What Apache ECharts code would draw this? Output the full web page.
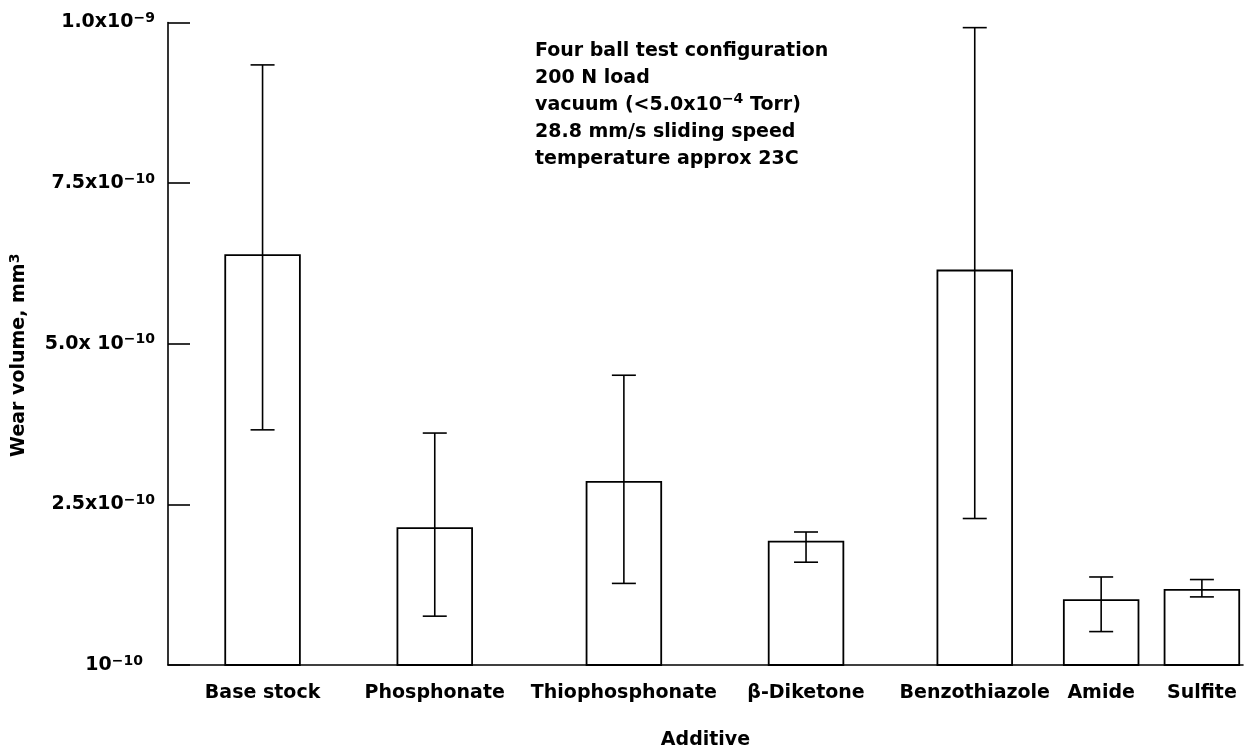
<!DOCTYPE html>
<html><head><meta charset="utf-8">
<script src="https://cdn.jsdelivr.net/npm/echarts@6/dist/echarts.min.js"></script>
<style>html,body{margin:0;padding:0;background:#fff}#c{width:1251px;height:755px}</style>
</head><body><div id="c"></div>
<script>
// ---- data (wear volume in units of 1e-10 mm^3) ----
const categories = ['Base stock', 'Phosphonate', 'Thiophosphonate', 'β-Diketone', 'Benzothiazole', 'Amide', 'Sulfite'];
const wearVolume = [6.38, 2.13, 2.85, 1.92, 6.14, 1.01, 1.17];
const errorHigh  = [9.34, 3.61, 4.51, 2.07, 9.92, 1.37, 1.33];
const errorLow   = [3.66, 0.76, 1.27, 1.60, 2.28, 0.52, 1.06];
const yTickLabels = { '0': ['10', '−10'], '2.5': ['2.5x10', '−10'], '5': ['5.0x 10', '−10'], '7.5': ['7.5x10', '−10'], '10': ['1.0x10', '−9'] };
const noteLines = [
  '{n|Four ball test configuration}',
  '{n|200 N load}',
  '{n|vacuum (<5.0x10}{s|−4}{n| Torr)}',
  '{n|28.8 mm/s sliding speed}',
  '{n|temperature approx 23C}'
];
const xAxisTitle = 'Additive';
const yAxisTitle = '{t|Wear volume, mm}{s|3}';

// ---- layout (slot positions along a hidden x scale) ----
const slotCenters = [95, 268, 458, 641, 810.5, 937.5, 1038.7];
const barWidthUnits = 75;
const FONT = 'DejaVu Sans';

const chart = echarts.init(document.getElementById('c'), null, { renderer: 'canvas' });

chart.setOption({
  backgroundColor: '#fff',
  animation: false,
  grid: { left: 163, right: 8, top: 22.5, bottom: 77.5, containLabel: false },
  xAxis: {
    type: 'value', min: 0, max: 1080,
    axisLine: { show: true, onZero: false, lineStyle: { color: '#000', width: 1.6 } },
    axisTick: { show: false }, axisLabel: { show: false }, splitLine: { show: false },
    name: xAxisTitle, nameLocation: 'middle', nameGap: 66,
    nameTextStyle: { fontFamily: FONT, fontWeight: 'bold', fontSize: 19, color: '#000' }
  },
  yAxis: {
    type: 'value', min: 0, max: 10, interval: 2.5,
    axisLine: { show: true, lineStyle: { color: '#000', width: 1.6 } },
    axisTick: { show: true, inside: true, length: 22, lineStyle: { color: '#000', width: 1.6 } },
    splitLine: { show: false },
    axisLabel: {
      margin: 13,
      formatter: function (v) {
        const t = yTickLabels[String(v)];
        if (!t) return '';
        return v === 0 ? '{b|' + t[0] + '}{s0|' + t[1] + '}' : '{b|' + t[0] + '}{s|' + t[1] + '}';
      },
      rich: {
        b: { fontFamily: FONT, fontWeight: 'bold', fontSize: 19, color: '#000', lineHeight: 22 },
        s: { fontFamily: FONT, fontWeight: 'bold', fontSize: 14, color: '#000', lineHeight: 12, verticalAlign: 'top' },
        s0: { fontFamily: FONT, fontWeight: 'bold', fontSize: 14, color: '#000', lineHeight: 12, verticalAlign: 'top', padding: [0, 12, 0, 0] }
      }
    },
    name: yAxisTitle, nameLocation: 'middle', nameRotate: 90, nameGap: 138,
    nameTextStyle: {
      padding: [0, 23, 0, 0],
      rich: {
        t: { fontFamily: FONT, fontWeight: 'bold', fontSize: 19, color: '#000', lineHeight: 22 },
        s: { fontFamily: FONT, fontWeight: 'bold', fontSize: 14, color: '#000', lineHeight: 12, verticalAlign: 'top' }
      }
    }
  },
  graphic: [{
    type: 'text', left: 535, top: 42,
    style: {
      text: noteLines.join('\n'),
      rich: {
        n: { fontFamily: FONT, fontWeight: 'bold', fontSize: 19, fill: '#000', lineHeight: 27 },
        s: { fontFamily: FONT, fontWeight: 'bold', fontSize: 14, fill: '#000', lineHeight: 17, verticalAlign: 'top' }
      }
    }
  }],
  series: [{
    type: 'custom',
    clip: false,
    encode: { x: 0, y: [1, 2, 3] },
    data: categories.map((c, i) => [slotCenters[i], wearVolume[i], errorLow[i], errorHigh[i]]),
    renderItem: function (params, api) {
      const i = params.dataIndex;
      const x = api.value(0);
      const base = api.coord([x, 0]);
      const top = api.coord([x, api.value(1)]);
      const lo = api.coord([x, api.value(2)]);
      const hi = api.coord([x, api.value(3)]);
      const halfW = api.size([barWidthUnits, 0])[0] / 2;
      const cap = 12;
      const ls = { stroke: '#000', lineWidth: 1.6 };
      return {
        type: 'group',
        children: [
          { type: 'rect', shape: { x: base[0] - halfW, y: top[1], width: halfW * 2, height: base[1] - top[1] }, style: { fill: '#fff', stroke: '#000', lineWidth: 1.8 } },
          { type: 'line', shape: { x1: hi[0], y1: hi[1], x2: lo[0], y2: lo[1] }, style: ls },
          { type: 'line', shape: { x1: hi[0] - cap, y1: hi[1], x2: hi[0] + cap, y2: hi[1] }, style: ls },
          { type: 'line', shape: { x1: lo[0] - cap, y1: lo[1], x2: lo[0] + cap, y2: lo[1] }, style: ls },
          { type: 'text', x: base[0], y: base[1] + 28,
            style: { text: categories[i], fontFamily: FONT, fontWeight: 'bold', fontSize: 19, fill: '#000', align: 'center', verticalAlign: 'middle' } }
        ]
      };
    }
  }]
});
</script>
</body></html>
